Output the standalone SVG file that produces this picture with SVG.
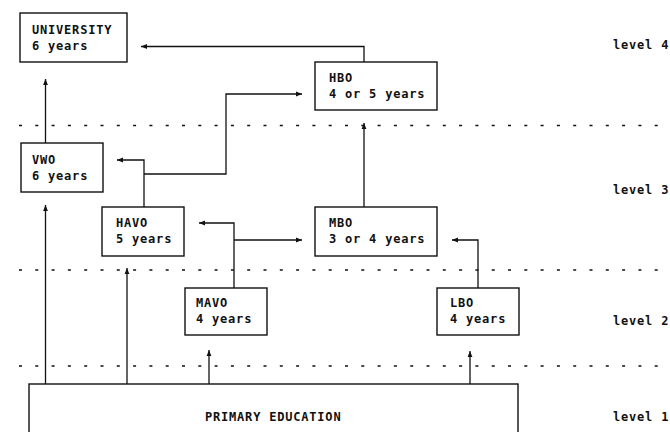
<svg xmlns="http://www.w3.org/2000/svg" width="670" height="432" viewBox="0 0 670 432">
<defs>
<style>
.box{fill:#fff;stroke:#111;stroke-width:1.4}
.t{font-family:"DejaVu Sans Mono","Liberation Mono",monospace;font-weight:bold;font-size:12px;letter-spacing:0.8px;fill:#111}
.c{fill:none;stroke:#111;stroke-width:1.3}
.dot{fill:none;stroke:#111;stroke-width:1.6;stroke-dasharray:3 13.3}
</style>
<marker id="ah" viewBox="0 0 10 10" refX="10" refY="5" markerWidth="6" markerHeight="6" markerUnits="userSpaceOnUse" orient="auto">
<path d="M0,1 L10,5 L0,9 Z" fill="#111"/>
</marker>
</defs>
<rect width="670" height="432" fill="#fff"/>
<g id="separators">
<line class="dot" x1="19" y1="125.5" x2="662" y2="125.5"/>
<line class="dot" x1="19" y1="270" x2="662" y2="270"/>
<line class="dot" x1="19" y1="366" x2="662" y2="366"/>
</g>
<g id="levels">
<text class="t" x="613" y="49">level 4</text>
<text class="t" x="613" y="194">level 3</text>
<text class="t" x="613" y="325">level 2</text>
<text class="t" x="613" y="421">level 1</text>
</g>
<g id="connectors">
<polyline class="c" points="364,62 364,46.5 141,46.5" marker-end="url(#ah)"/>
<line class="c" x1="364" y1="207" x2="364" y2="123" marker-end="url(#ah)"/>
<line class="c" x1="45.5" y1="143" x2="45.5" y2="79" marker-end="url(#ah)"/>
<polyline class="c" points="144,207 144,160 117,160" marker-end="url(#ah)"/>
<polyline class="c" points="144,174 226,174 226,94 302,94" marker-end="url(#ah)"/>
<polyline class="c" points="234,288 234,223 199,223" marker-end="url(#ah)"/>
<polyline class="c" points="234,240 302,240" marker-end="url(#ah)"/>
<polyline class="c" points="478,288 478,240 452,240" marker-end="url(#ah)"/>
<line class="c" x1="45.5" y1="384" x2="45.5" y2="205" marker-end="url(#ah)"/>
<line class="c" x1="127" y1="384" x2="127" y2="268" marker-end="url(#ah)"/>
<line class="c" x1="209" y1="384" x2="209" y2="350" marker-end="url(#ah)"/>
<line class="c" x1="470" y1="384" x2="470" y2="351" marker-end="url(#ah)"/>
</g>
<g id="university">
<rect class="box" x="20" y="13" width="107" height="49"/>
<text class="t" x="32" y="34">UNIVERSITY</text>
<text class="t" x="32" y="50">6 years</text>
</g>
<g id="hbo">
<rect class="box" x="315" y="62" width="122" height="48"/>
<text class="t" x="329" y="82">HBO</text>
<text class="t" x="329" y="98">4 or 5 years</text>
</g>
<g id="vwo">
<rect class="box" x="21" y="143" width="82" height="49"/>
<text class="t" x="32" y="164">VWO</text>
<text class="t" x="32" y="180">6 years</text>
</g>
<g id="havo">
<rect class="box" x="102" y="207" width="82" height="49"/>
<text class="t" x="116" y="227">HAVO</text>
<text class="t" x="116" y="243">5 years</text>
</g>
<g id="mbo">
<rect class="box" x="315" y="207" width="122" height="49"/>
<text class="t" x="329" y="227">MBO</text>
<text class="t" x="329" y="243">3 or 4 years</text>
</g>
<g id="mavo">
<rect class="box" x="185" y="288" width="82" height="47"/>
<text class="t" x="196" y="307">MAVO</text>
<text class="t" x="196" y="323">4 years</text>
</g>
<g id="lbo">
<rect class="box" x="437" y="288" width="82" height="47"/>
<text class="t" x="450" y="307">LBO</text>
<text class="t" x="450" y="323">4 years</text>
</g>
<g id="primary">
<rect class="box" x="29" y="384" width="489" height="60"/>
<text class="t" x="205" y="421">PRIMARY EDUCATION</text>
</g>
</svg>
